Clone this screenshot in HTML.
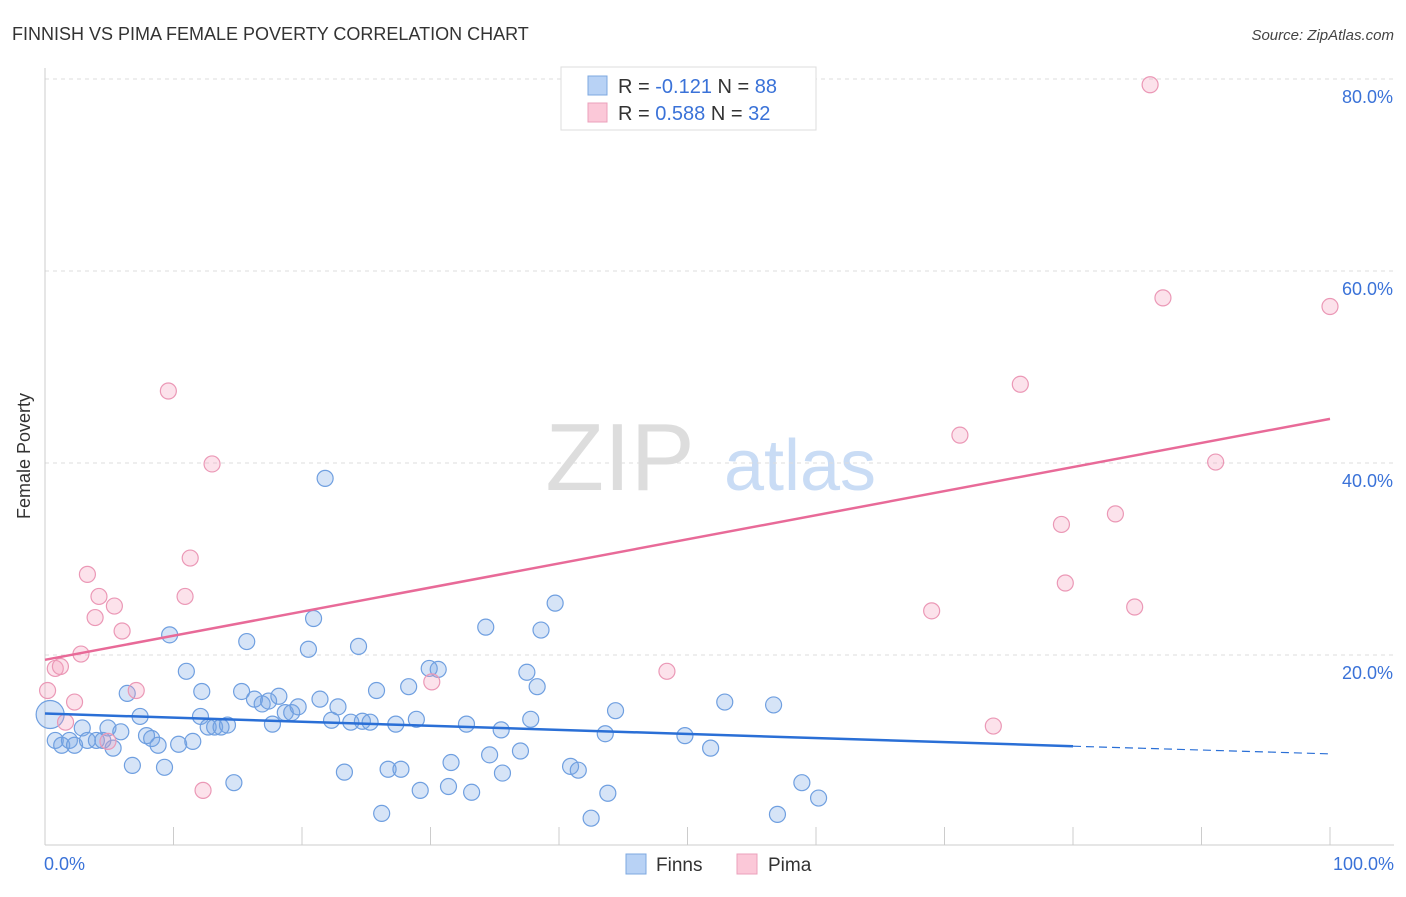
<!DOCTYPE html>
<html><head><meta charset="utf-8"><style>
body{margin:0;background:#fff;font-family:"Liberation Sans",sans-serif}
svg text{font-family:"Liberation Sans",sans-serif}
</style></head><body>
<svg width="1406" height="892">
<text x="12" y="40" font-size="18" fill="#333">FINNISH VS PIMA FEMALE POVERTY CORRELATION CHART</text>
<text x="1394" y="40" font-size="15" fill="#444" text-anchor="end" font-style="italic">Source: ZipAtlas.com</text>
<text x="30" y="456" font-size="18" fill="#333" text-anchor="middle" transform="rotate(-90 30 456)">Female Poverty</text>
<text x="620" y="490" font-size="96" fill="#ddd" font-family="Liberation Serif" text-anchor="middle">ZIP</text>
<text x="800" y="490" font-size="72" fill="#c9dcf5" text-anchor="middle">atlas</text>
<g id="grid"></g><g id="axes"></g><g id="pts"></g><g id="lines"></g>
<g>
<rect x="561" y="67" width="255" height="63" fill="#fff" stroke="#ddd"/>
<rect x="588" y="76" width="19" height="19" fill="#b8d2f5" stroke="#7ea8e0"/>
<rect x="588" y="103" width="19" height="19" fill="#fbc8d8" stroke="#eba0bb"/>
<text x="618" y="93" font-size="20" fill="#333">R = <tspan fill="#3a72d8">-0.121</tspan>   N = <tspan fill="#3a72d8">88</tspan></text>
<text x="618" y="120" font-size="20" fill="#333">R = <tspan fill="#3a72d8">0.588</tspan>   N = <tspan fill="#3a72d8">32</tspan></text>
</g>
<g>
<rect x="626" y="854" width="20" height="20" fill="#b8d2f5" stroke="#7ea8e0"/>
<text x="656" y="871" font-size="19" fill="#333">Finns</text>
<rect x="737" y="854" width="20" height="20" fill="#fbc8d8" stroke="#eba0bb"/>
<text x="768" y="871" font-size="19" fill="#333">Pima</text>
</g>
</svg>
<script>
const finnsX=[0.4,0.8,1.3,1.9,2.3,2.9,3.3,4.0,4.5,5.3,4.9,5.9,6.4,6.8,7.4,7.9,8.3,8.8,9.3,9.7,10.4,11.0,11.5,12.1,12.2,12.7,13.2,13.7,14.2,14.7,15.3,15.7,16.3,16.9,17.4,17.7,18.2,18.7,19.2,19.7,20.5,20.9,21.4,21.8,22.3,22.8,23.3,23.8,24.4,24.7,25.3,25.8,26.2,26.7,27.3,27.7,28.3,28.9,29.2,29.9,30.6,31.6,31.4,32.8,33.2,34.3,34.6,35.5,35.6,37.0,37.5,37.8,38.3,38.6,39.7,40.9,41.5,42.5,43.8,43.6,44.4,49.8,51.8,52.9,56.7,57.0,58.9,60.2];
const finnsY=[13.8,11.1,10.6,11.1,10.6,12.4,11.1,11.1,11.1,10.3,12.4,12.0,16.0,8.5,13.6,11.6,11.3,10.6,8.3,22.1,10.7,18.3,11.0,13.6,16.2,12.5,12.5,12.5,12.7,6.7,16.2,21.4,15.4,14.9,15.2,12.8,15.7,14.0,14.0,14.6,20.6,23.8,15.4,38.4,13.2,14.6,7.8,13.0,20.9,13.1,13.0,16.3,3.5,8.1,12.8,8.1,16.7,13.3,5.9,18.6,18.5,8.8,6.3,12.8,5.7,22.9,9.6,12.2,7.7,10.0,18.2,13.3,16.7,22.6,25.4,8.4,8.0,3.0,5.6,11.8,14.2,11.6,10.3,15.1,14.8,3.4,6.7,5.1];
const pimaX=[0.2,0.8,1.2,1.6,2.3,2.8,3.3,3.9,4.2,4.9,5.4,6.0,7.1,9.6,10.9,11.3,12.3,13.0,30.1,48.4,69.0,71.2,73.8,75.9,79.1,79.4,83.3,84.8,86.0,87.0,91.1,100.0];
const pimaY=[16.3,18.6,18.8,13.0,15.1,20.1,28.4,23.9,26.1,11.0,25.1,22.5,16.3,47.5,26.1,30.1,5.9,39.9,17.2,18.3,24.6,42.9,12.6,48.2,33.6,27.5,34.7,25.0,79.4,57.2,40.1,56.3];
const yTicks=[20,40,60,80];
const xLabels=["0.0%","100.0%"];
const trendFinns=[13.9,10.5,9.7], trendPima=[19.5,44.6];
const X=v=>45+v*12.85, Y=v=>847-v*9.6;
const ns="http://www.w3.org/2000/svg";
function mk(t,a,p){const e=document.createElementNS(ns,t);for(const k in a)e.setAttribute(k,a[k]);document.getElementById(p).appendChild(e);return e;}
yTicks.forEach(t=>{
 const l=mk('line',{x1:45,x2:1394,y1:Y(t),y2:Y(t),stroke:'#ddd','stroke-dasharray':'4,4'},'grid');
 
 
 const tx=mk('text',{x:1393,y:Y(t)+24,'font-size':18,fill:'#3a72d8','text-anchor':'end'},'grid');tx.textContent=t.toFixed(1)+'%';
 
 
});
const ax=mk('line',{x1:45,x2:45,y1:68,y2:845,stroke:'#ccc'},'axes');


const bx=mk('line',{x1:45,x2:1394,y1:845,y2:845,stroke:'#ccc'},'axes');


for(let i=1;i<=10;i++){const t=mk('line',{x1:X(i*10),x2:X(i*10),y1:827,y2:845,stroke:'#ccc'},'axes');
 
 }
[[0,'start',44],[100,'end',1394]].forEach((d,i)=>{const t=mk('text',{x:d[2],y:870,'font-size':18,fill:'#3a72d8','text-anchor':d[1]},'axes');t.textContent=xLabels[i];
 
 });
finnsX.forEach((x,i)=>{const c=mk('circle',{cx:X(x),cy:Y(finnsY[i]),r:i==0?14:8,fill:'rgba(120,165,230,0.3)',stroke:'#6f9fe0','stroke-width':1.2},'pts');
 
 });
pimaX.forEach((x,i)=>{const c=mk('circle',{cx:X(x),cy:Y(pimaY[i]),r:8,fill:'rgba(245,160,190,0.3)',stroke:'#eb98b6','stroke-width':1.2},'pts');
 
 });
const l1=mk('line',{x1:X(0),y1:Y(trendFinns[0]),x2:X(80),y2:Y(trendFinns[1]),stroke:'#2a6fd6','stroke-width':2.5},'lines');


const l2=mk('line',{x1:X(80),y1:Y(trendFinns[1]),x2:X(100),y2:Y(trendFinns[2]),stroke:'#2a6fd6','stroke-width':1.2,'stroke-dasharray':'8,5'},'lines');


const l3=mk('line',{x1:X(0),y1:Y(trendPima[0]),x2:X(100),y2:Y(trendPima[1]),stroke:'#e86a98','stroke-width':2.5},'lines');


</script>
</body></html>
